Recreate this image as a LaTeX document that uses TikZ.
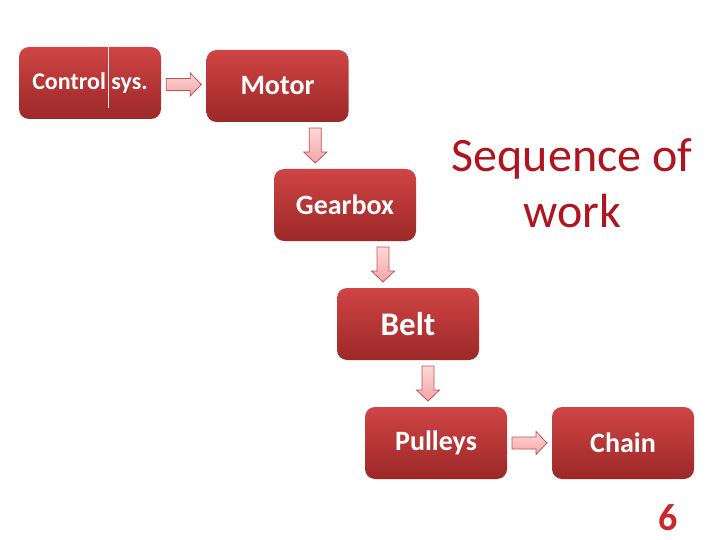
\documentclass[tikz,border=0pt]{standalone}
\usepackage{fontspec}
\setmainfont{Carlito}
\usetikzlibrary{calc}
\definecolor{boxtop}{HTML}{D04444}
\definecolor{boxbot}{HTML}{9C2828}
\definecolor{arrtop}{HTML}{FCD8D8}
\definecolor{arrbot}{HTML}{F3A6A6}
\definecolor{arrline}{HTML}{C8504E}
\definecolor{seqred}{HTML}{B0141E}
\definecolor{numred}{HTML}{C8282A}
\tikzset{
  procbox/.style={rounded corners=10pt, top color=boxtop, bottom color=boxbot,
    draw=none, minimum width=142pt, minimum height=72pt, inner sep=0pt,
    text=white, font=\bfseries\fontsize{28}{32}\selectfont},
  barrow/.pic={
    \draw[arrline, line width=0.8pt, top color=arrtop, bottom color=arrbot]
      (-17.5pt,-6pt) -- (6.5pt,-6pt) -- (6.5pt,-11.5pt) -- (17.5pt,0pt)
      -- (6.5pt,11.5pt) -- (6.5pt,6pt) -- (-17.5pt,6pt) -- cycle;
  }
}
\begin{document}
\begin{tikzpicture}[x=1pt,y=-1pt]
\useasboundingbox (0,0) rectangle (720,540);
\node[procbox, font=\bfseries\fontsize{24}{28}\selectfont] (ctrl) at (90,83) {Control sys.};
\draw[white!85!gray, line width=0.8pt] (108,46) coordinate (sepT) -- (108,108) coordinate (sepB);
\node[procbox] (motor) at (277.5,86) {Motor};
\node[procbox] (gear) at (345,205) {Gearbox};
\node[procbox, font=\bfseries\fontsize{33}{38}\selectfont] (belt) at (408,324) {Belt};
\node[procbox] (pulleys) at (436,443) {Pulleys};
\node[procbox] (chain) at (623,443) {Chain};
\node[text=seqred, align=center, font=\fontsize{48}{56}\selectfont] (seq) at (572,183) {Sequence of\\work};
\node[text=numred, font=\bfseries\fontsize{38}{42}\selectfont] (num) at (668,518) {6};
\pic at ($(ctrl.east)!0.5!(motor.west)$) {barrow};
\pic[rotate=-90] at ($(motor.south)!0.5!(gear.north)+(4,0)$) {barrow};
\pic[rotate=-90] at ($(gear.south)!0.5!(belt.north)+(6.5,0)$) {barrow};
\pic[rotate=-90] at ($(belt.south)!0.5!(pulleys.north)+(6,0)$) {barrow};
\pic at ($(pulleys.east)!0.5!(chain.west)$) {barrow};
\end{tikzpicture}
\end{document}
